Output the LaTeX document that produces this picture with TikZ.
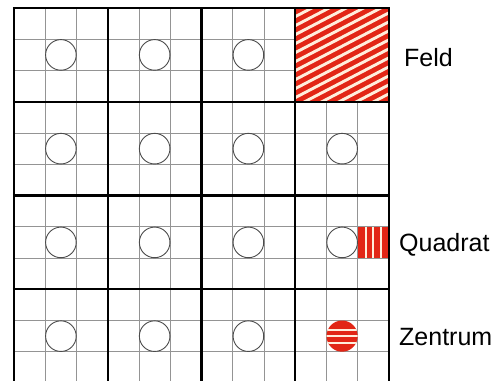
\documentclass[tikz,border=0pt]{standalone}
\usepackage{fontspec}
\setmainfont{Liberation Sans}
\definecolor{feldrot}{RGB}{226,38,22}
\definecolor{streifen}{RGB}{255,238,220}

\begin{document}
\begin{tikzpicture}[
    x=1pt, y=-1pt,
    fine/.style={draw=black!42,line width=0.7pt},
    grob/.style={draw=black,line width=2.4pt},
    kreis/.style={draw=black!70,line width=0.9pt},
    stripe/.style={draw=streifen,line width=2.9pt},
    lbl/.style={font=\fontsize{25}{30}\selectfont,anchor=base west,inner sep=0pt}
]
\useasboundingbox (0,0) rectangle (499,381);
\clip (0,0) rectangle (499,381);
% fine grid (3 x 3 squares per field)
\foreach \i in {0,...,3} {
  \foreach \s in {1,2} {
    \draw[fine] (14+\i*93.75+\s*31.25,8) -- (14+\i*93.75+\s*31.25,381);
    \draw[fine] (14,8+\i*93.75+\s*31.25) -- (389,8+\i*93.75+\s*31.25);
  }
}
% Feld
\fill[feldrot] (295.25,8) rectangle (389,101.75);
\begin{scope}
  \clip (295.25,8) rectangle (389,101.75);
  \foreach \c in {4,13,...,175}
    \draw[stripe] (285,\c) -- (400,\c-60);
\end{scope}
% Quadrat
\fill[feldrot] (357.75,226.75) rectangle (389,258);
\foreach \x in {365.6,373.4,381.2}
  \draw[stripe,line width=2pt] (\x,226.75) -- (\x,258);
% field borders
\foreach \i in {0,...,4}
  \draw[grob] (14+\i*93.75,8) -- (14+\i*93.75,381);
\foreach \j in {0,...,3}
  \draw[grob] (12.8,8+\j*93.75) -- (390.2,8+\j*93.75);
% circles in the field centres
\foreach \i in {0,...,3} {
  \foreach \j in {0,...,3} {
    \ifnum\i=3 \ifnum\j=0 \else \ifnum\j=3 \else
      \draw[kreis] (60.9+\i*93.75,54.9+\j*93.75) circle (15.3);
    \fi\fi
    \else
      \draw[kreis] (60.9+\i*93.75,54.9+\j*93.75) circle (15.3);
    \fi
  }
}
% Zentrum
\fill[feldrot] (342.1,336.1) circle (15.6);
\begin{scope}
  \clip (342.1,336.1) circle (15.6);
  \foreach \y in {-6.2,0,6.4}
    \draw[stripe,line width=2pt] (325,336.1+\y) -- (360,336.1+\y);
\end{scope}
% labels
\node[lbl] (feld)    at (404,66.5) {Feld};
\node[lbl] (quadrat) at (399,251.5) {Quadrat};
\node[lbl] (zentrum) at (399,345) {Zentrum};
\end{tikzpicture}
\end{document}
